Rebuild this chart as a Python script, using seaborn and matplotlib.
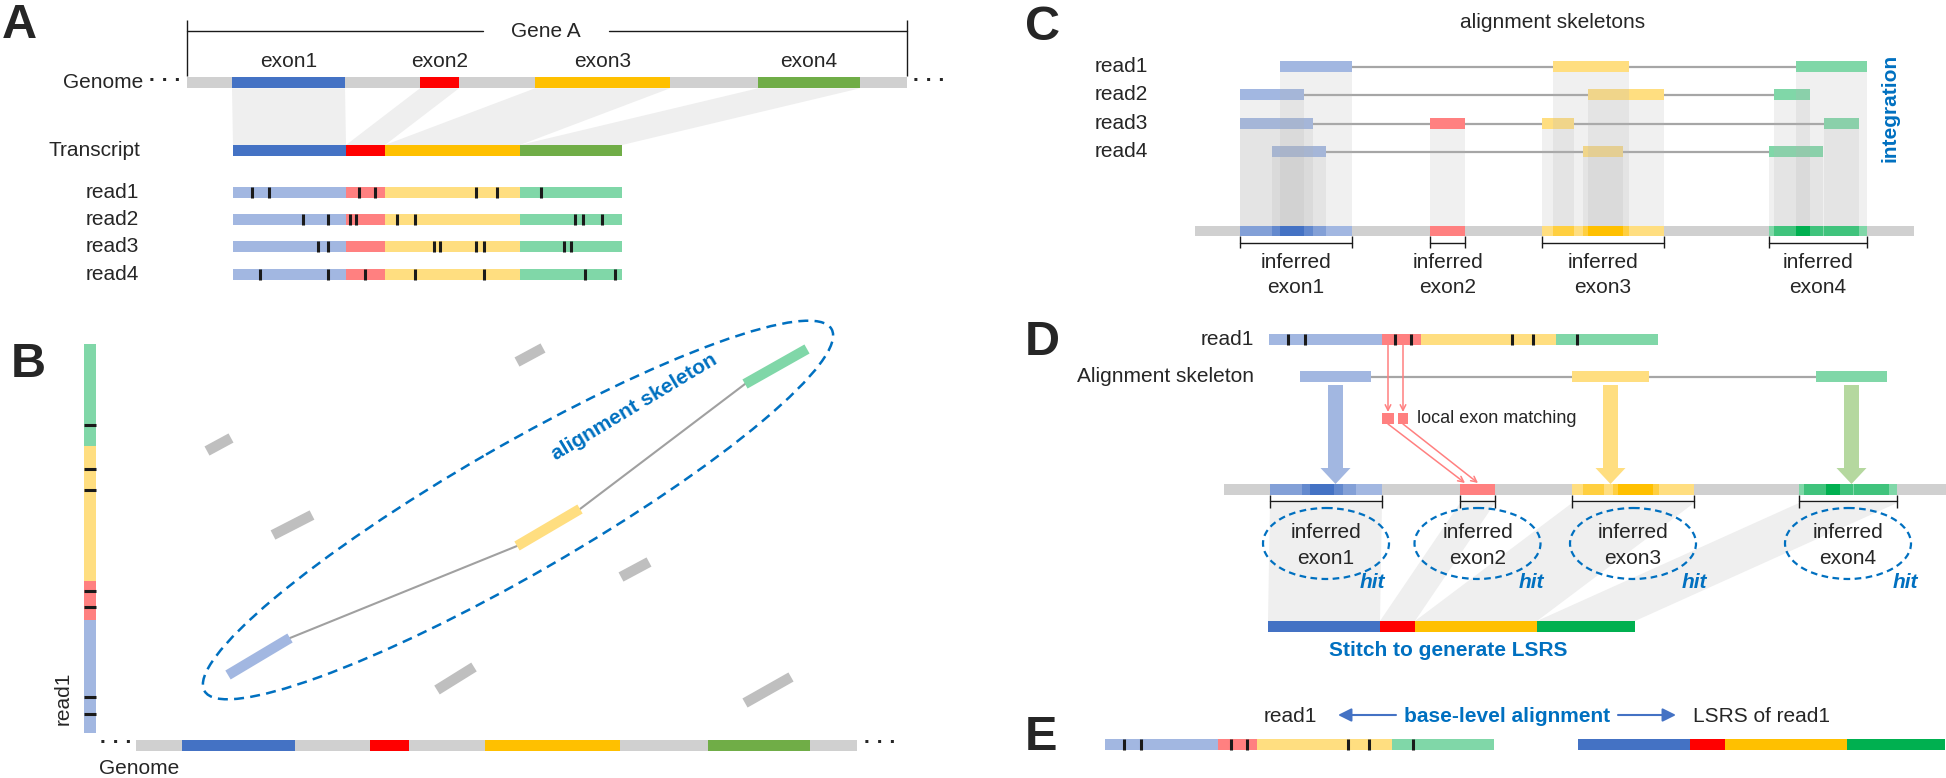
import matplotlib
matplotlib.use("Agg")
import matplotlib.pyplot as plt
import matplotlib.colors as mcolors
from matplotlib.patches import Ellipse, Polygon, FancyArrow
import seaborn as sns

sns.set_theme(style="white")
plt.rcParams["font.family"] = ["Liberation Sans", "DejaVu Sans"]

# ------------------------------------------------------------------ data
EXON_LABELS = ["exon1", "exon2", "exon3", "exon4"]
READ_LABELS = ["read1", "read2", "read3", "read4"]
DARK = ["#4472C4", "#FF0000", "#FFC000", "#00B050"]
LIGHT = ["#A2B7E1", "#FF8080", "#FFDE80", "#80D7A8"]
GENOME_GREEN = "#70AD47"
BLUE_TXT = "#0070C0"

# panel A gene model (genome coordinate)
GENE_SPAN = [186.5, 907]
EXON_START = [232, 420, 535, 758]
EXON_END = [345, 459, 670, 860]
# mismatch offsets along each read
MISMATCH_READ1 = [19, 36, 126, 142, 243, 264, 308]
MISMATCH_READ2 = [70, 95, 117, 123, 164, 182, 342, 350, 369]
MISMATCH_READ3 = [85, 95, 201, 207, 243, 251, 331, 338]
MISMATCH_READ4 = [27, 95, 132, 182, 251, 352, 382]

# panel B: hits of read1 against the genome (genome x0, read y0, genome x1, read y1)
SKELETON_HITS = [(228, 675, 290, 638), (517, 546, 580, 509), (745, 384, 807, 349)]
SPURIOUS_HITS = [(207, 451, 231, 438), (273, 535, 312, 515), (517, 362, 543, 348),
                 (621, 577, 649, 562), (437, 690, 474, 667), (745, 703, 791, 677)]

# panel C: alignment skeleton blocks per read (exon index, start, end)
SKEL_READ1 = [(0, 1280, 1352), (2, 1553, 1629), (3, 1796, 1867)]
SKEL_READ2 = [(0, 1240, 1304), (2, 1588, 1664), (3, 1774, 1810)]
SKEL_READ3 = [(0, 1240, 1313), (1, 1430, 1465), (2, 1542, 1574), (3, 1824, 1859)]
SKEL_READ4 = [(0, 1272, 1326), (2, 1583, 1623), (3, 1769, 1823)]
SKELETONS = [SKEL_READ1, SKEL_READ2, SKEL_READ3, SKEL_READ4]

# panel D: skeleton of read1
SKEL_D = [(0, 1300, 1371), (2, 1572, 1649), (3, 1816, 1887)]

# ------------------------------------------------------------------ figure
fig = plt.figure(figsize=(19.46, 7.78), dpi=100)
ax = fig.add_axes([0, 0, 1, 1])
ax.set_xlim(0, 1946)
ax.set_ylim(778, 0)
ax.axis("off")

FS = 15
GRAY_BAR = "#D0D0D0"
STITCH = "#EFEFEF"
EXON_LEN = [e - s for s, e in zip(EXON_START, EXON_END)]


def hbar(x0, x1, yc, h, color, z=2, alpha=1.0):
    ax.barh(yc, x1 - x0, left=x0, height=h, color=color, lw=0, zorder=z, alpha=alpha)


def txt(x, y, s, size=FS, **kw):
    kw.setdefault("ha", "center")
    kw.setdefault("va", "center")
    ax.text(x, y, s, fontsize=size, zorder=6, **kw)


def draw_read(x0, yc, mism, h=11):
    x = x0
    for k, L in enumerate(EXON_LEN):
        hbar(x, x + L, yc, h, LIGHT[k], z=2)
        x += L
    ax.vlines([x0 + m for m in mism], yc - h / 2, yc + h / 2, colors="k", lw=2.2, zorder=3)


def draw_genome(shift, yc, h=11, green=GENOME_GREEN):
    hbar(GENE_SPAN[0] + shift, GENE_SPAN[1] + shift, yc, h, GRAY_BAR)
    cols = DARK[:3] + [green]
    for k in range(4):
        hbar(EXON_START[k] + shift, EXON_END[k] + shift, yc, h, cols[k], z=2.2)


def blend(c1, c2, t):
    a = mcolors.to_rgb(c1)
    b = mcolors.to_rgb(c2)
    return tuple(a[i] * (1 - t) + b[i] * t for i in range(3))


def coverage(intervals):
    pts = sorted(set(p for iv in intervals for p in iv))
    out = []
    for a, b in zip(pts[:-1], pts[1:]):
        m = (a + b) / 2
        n = sum(1 for s, e in intervals if s <= m <= e)
        if n:
            out.append((a, b, n))
    return out


def panel_label(x, y, s):
    ax.text(x, y, s, fontsize=35, fontweight="bold", ha="left", va="baseline", zorder=6)


# ================================================================== A
panel_label(2, 38, "A")
# gene bracket
ax.plot([GENE_SPAN[0], 483], [31, 31], color="k", lw=1)
ax.plot([609, GENE_SPAN[1]], [31, 31], color="k", lw=1)
ax.vlines(GENE_SPAN, 20, 76, colors="k", lw=1)
txt(546, 31, "Gene A")
for k in range(4):
    txt((EXON_START[k] + EXON_END[k]) / 2, 61, EXON_LABELS[k])
gen_y = 82.8
draw_genome(0, gen_y)
txt(143, gen_y, "Genome", ha="right")
txt(165, gen_y - 2, "· · ·", fontweight="bold")
txt(929, gen_y - 2, "· · ·", fontweight="bold")
# transcript
tr_y = 150.5
tx0 = 233
x = tx0
for k, L in enumerate(EXON_LEN):
    ax.add_patch(Polygon([(EXON_START[k], gen_y + 5.5), (EXON_END[k], gen_y + 5.5),
                          (x + L, tr_y - 5.5), (x, tr_y - 5.5)],
                         closed=True, fc=STITCH, ec="none", zorder=1))
    hbar(x, x + L, tr_y, 11, DARK[:3][k] if k < 3 else GENOME_GREEN)
    x += L
txt(140, tr_y, "Transcript", ha="right")
read_y = [192, 219.5, 246.5, 274.5]
for lab, yc, mm in zip(READ_LABELS, read_y,
                       [MISMATCH_READ1, MISMATCH_READ2, MISMATCH_READ3, MISMATCH_READ4]):
    draw_read(tx0, yc, mm)
    txt(139, yc, lab, ha="right")

# ================================================================== B
panel_label(11, 377, "B")
# vertical read1 (bottom = read start)
rb = 733
y = rb
for k, L in enumerate(EXON_LEN):
    ax.bar(90, -L, bottom=y, width=12, color=LIGHT[k], lw=0, zorder=2)
    y -= L
ax.hlines([rb - m for m in MISMATCH_READ1], 84, 96, colors="k", lw=2.2, zorder=3)
txt(63, 698, "read1", rotation=90)
# genome
shiftB = -50.5
draw_genome(shiftB, 745)
txt(116, 743, "· · ·", fontweight="bold")
txt(880, 743, "· · ·", fontweight="bold")
txt(139, 769, "Genome")
# spurious hits
for (x0, y0, x1, y1) in SPURIOUS_HITS:
    ax.plot([x0, x1], [y0, y1], color="#BFBFBF", lw=7.5, solid_capstyle="butt", zorder=2)
# skeleton connecting lines
for a, b in zip(SKELETON_HITS[:-1], SKELETON_HITS[1:]):
    ax.plot([a[2], b[0]], [a[3], b[1]], color="#A0A0A0", lw=1.5, zorder=1.5)
for (x0, y0, x1, y1), c in zip(SKELETON_HITS, [LIGHT[0], LIGHT[2], LIGHT[3]]):
    ax.plot([x0, x1], [y0, y1], color=c, lw=7.5, solid_capstyle="butt", zorder=2)
ax.add_patch(Ellipse((518, 510), 724, 128, angle=-30, fill=False, ec=BLUE_TXT,
                     lw=1.8, ls=(0, (4, 2.5)), zorder=3))
txt(634, 407, "alignment skeleton", color=BLUE_TXT, fontweight="bold", rotation=31,
    rotation_mode="anchor")

# ================================================================== C
panel_label(1025, 40, "C")
txt(1553, 22, "alignment skeletons")
row_y = [66.5, 94.5, 123.5, 151.5]
barC_y = 231
barC = (1194.7, 1914)
for lab, yc, sk in zip(READ_LABELS, row_y, SKELETONS):
    txt(1095, yc, lab, ha="left")
    ax.plot([sk[0][2], sk[-1][1]], [yc, yc], color="#A6A6A6", lw=1.6, zorder=1.8)
    for k, s, e in sk:
        hbar(s, e, yc, 11, LIGHT[k], z=2.5)
        ax.bar((s + e) / 2, barC_y - 5.25 - (yc + 5.5), bottom=yc + 5.5, width=e - s,
               color="#B4B4B4", alpha=0.2, lw=0, zorder=3)
txt(1890, 108, "integration", color=BLUE_TXT, fontweight="bold", rotation=90)


def inferred_bar(shift, yc, tick_top, tick_bot, line_y):
    spans = []
    for k in range(4):
        ivs = [(s + shift, e + shift) for sk in SKELETONS for kk, s, e in sk if kk == k]
        segs = coverage(ivs)
        nmax = max(n for _, _, n in segs)
        for a, b, n in segs:
            t = 0 if nmax == 1 else (n - 1) / (nmax - 1)
            hbar(a, b, yc, 10.5, blend(LIGHT[k], DARK[k], t), z=2.3)
        s0 = min(a for a, _ in ivs)
        e0 = max(b for _, b in ivs)
        ax.plot([s0, e0], [line_y, line_y], color="k", lw=1, zorder=3)
        ax.vlines([s0, e0], tick_top, tick_bot, colors="k", lw=1, zorder=3)
        spans.append((s0, e0))
    return spans


hbar(barC[0], barC[1], barC_y, 10.5, GRAY_BAR)
spansC = inferred_bar(0, barC_y, 236, 248, 243)
for k, (s, e) in enumerate(spansC):
    txt((s + e) / 2, 263, "inferred")
    txt((s + e) / 2, 287, EXON_LABELS[k])

# ================================================================== D
panel_label(1025, 355, "D")
rd_y = 339.5
draw_read(1269, rd_y, MISMATCH_READ1)
txt(1254, rd_y, "read1", ha="right")
sk_y = 376.5
txt(1254, sk_y, "Alignment skeleton", ha="right")
ax.plot([SKEL_D[0][2], SKEL_D[-1][1]], [sk_y, sk_y], color="#A6A6A6", lw=1.6, zorder=1.8)
arrow_cols = [LIGHT[0], None, LIGHT[2], "#B5D89F"]
barD_y = 489.5
for k, s, e in SKEL_D:
    hbar(s, e, sk_y, 11, LIGHT[k], z=2.5)
    ax.add_patch(FancyArrow((s + e) / 2, sk_y + 8.5, 0, barD_y - 5.5 - (sk_y + 8.5),
                            width=15, head_width=30, head_length=16,
                            length_includes_head=True, color=arrow_cols[k], lw=0, zorder=2))
# local exon matching
hbar(1382, 1394, 418.5, 11, LIGHT[1], z=2.5)
hbar(1398, 1408, 418.5, 11, LIGHT[1], z=2.5)
for xs, xt in [(1388, 1465), (1403, 1478)]:
    ax.annotate("", xy=(xs, 412), xytext=(xs, rd_y + 5.5),
                arrowprops=dict(arrowstyle="->", color="#FF8080", lw=1.1,
                                shrinkA=0, shrinkB=0, mutation_scale=10), zorder=3)
    ax.annotate("", xy=(xt, barD_y - 6.5), xytext=(xs, 424),
                arrowprops=dict(arrowstyle="->", color="#FF8080", lw=1.1,
                                shrinkA=0, shrinkB=0, mutation_scale=10), zorder=3)
txt(1417, 418, "local exon matching", size=13, ha="left")
hbar(1224, 1946, barD_y, 11, GRAY_BAR)
shiftD = 30
spansD = inferred_bar(shiftD, barD_y, 495, 508, 501)
# stitched LSRS
ls_y = 626.5
x = 1268
lsrs = []
for k, (s, e) in enumerate(spansD):
    L = e - s
    ax.add_patch(Polygon([(s, 503), (e, 503), (x + L, ls_y - 5.5), (x, ls_y - 5.5)],
                         closed=True, fc=STITCH, ec="none", zorder=0.5))
    lsrs.append((x, x + L))
    hbar(x, x + L, ls_y, 11, DARK[k])
    x += L
hit_dx = [46, 54, 61, 57]
for k, (s, e) in enumerate(spansD):
    c = (s + e) / 2
    ax.add_patch(Ellipse((c, 543.5), 126, 71, fill=False, ec=BLUE_TXT, lw=1.6,
                         ls=(0, (3, 2)), zorder=4))
    txt(c, 533, "inferred")
    txt(c, 558, EXON_LABELS[k])
    txt(c + hit_dx[k], 582, "hit", color=BLUE_TXT, fontweight="bold", style="italic")
txt(1448, 650, "Stitch to generate LSRS", color=BLUE_TXT, fontweight="bold")

# ================================================================== E
panel_label(1025, 750, "E")
e_y = 744.5
draw_read(1104.5, e_y, MISMATCH_READ1)
x = 1578
for k, (s, e) in enumerate(spansD):
    hbar(x, x + (e - s), e_y, 11, DARK[k])
    x += e - s
txt(1290, 716, "read1")
txt(1507, 716, "base-level alignment", color=BLUE_TXT, fontweight="bold")
txt(1693, 716, "LSRS of read1", ha="left")
for xs, xe in [(1396, 1338), (1618, 1676)]:
    ax.annotate("", xy=(xe, 715), xytext=(xs, 715),
                arrowprops=dict(arrowstyle="-|>", color="#4472C4", lw=1.5,
                                shrinkA=0, shrinkB=0, mutation_scale=20), zorder=3)

fig.savefig("out.png", dpi=100)
